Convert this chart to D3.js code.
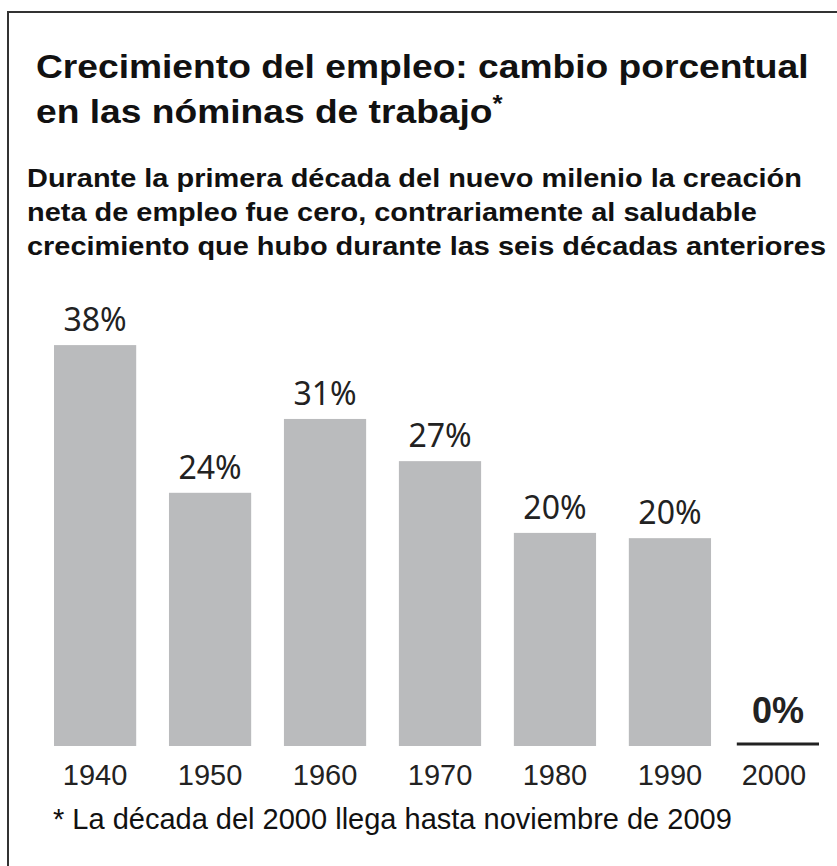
<!DOCTYPE html>
<html>
<head>
<meta charset="utf-8">
<script src="https://cdn.jsdelivr.net/npm/d3@7"></script>
<style>
  html, body { margin: 0; padding: 0; background: #fff; }
  svg { display: block; }
</style>
</head>
<body>
<svg id="chart" width="837" height="866"></svg>
<script>
// data
const decades = ['1940', '1950', '1960', '1970', '1980', '1990', '2000'];
const growth = [38, 24, 31, 27, 20.2, 19.7, 0];
const valueLabels = ['38%', '24%', '31%', '27%', '20%', '20%', '0%'];

const titleLines = [
  'Crecimiento del empleo: cambio porcentual',
  'en las nóminas de trabajo'
];
const subtitleLines = [
  'Durante la primera década del nuevo milenio la creación',
  'neta de empleo fue cero, contrariamente al saludable',
  'crecimiento que hubo durante las seis décadas anteriores'
];
const footnote = '* La década del 2000 llega hasta noviembre de 2009';

const W = 837, H = 866;
const sansFont = '"Liberation Sans", Arial, sans-serif';
const svg = d3.select('#chart');

// frame: top and left rules only
svg.append('line')
  .attr('x1', 8).attr('x2', W).attr('y1', 12).attr('y2', 12)
  .style('stroke', '#333').style('stroke-width', 2);
svg.append('line')
  .attr('x1', 8).attr('x2', 8).attr('y1', 11).attr('y2', H)
  .style('stroke', '#333').style('stroke-width', 2);

// the heading type in the original is a little wider than Arial, so stretch
// the block horizontally until its first line spans the same width
function stretchBlock(g, x0, targetWidth) {
  const first = g.select('text').node();
  const sx = targetWidth / first.getComputedTextLength();
  g.attr('transform', `translate(${x0},0) scale(${sx},1)`);
}

// title
const titleG = svg.append('g');
titleLines.forEach((t, i) => {
  const txt = titleG.append('text')
    .attr('x', 0)
    .attr('y', 78 + i * 45)
    .style('font-family', sansFont)
    .style('font-weight', 'bold')
    .style('font-size', '33px')
    .style('fill', '#111')
    .text(t);
  if (i === titleLines.length - 1) {
    txt.append('tspan').attr('dy', -11).style('font-size', '23px').text('*');
  }
});
stretchBlock(titleG, 36, 773);

// subtitle
const subG = svg.append('g');
subG.selectAll('text')
  .data(subtitleLines)
  .enter().append('text')
  .attr('x', 0)
  .attr('y', (d, i) => 187 + i * 34)
  .style('font-family', sansFont)
  .style('font-weight', 'bold')
  .style('font-size', '26px')
  .style('fill', '#111')
  .text(d => d);
stretchBlock(subG, 27, 775);

// scales
const x = d3.scaleBand()
  .domain(decades)
  .range([54, 826])
  .paddingInner(0.285)
  .paddingOuter(0);

const y = d3.scaleLinear()
  .domain([0, 40])
  .range([746, 324]);

const data = decades.map((d, i) => ({ decade: d, value: growth[i], label: valueLabels[i] }));
const last = decades[decades.length - 1];
const lastShift = -7; // last column sits a bit closer to the 1990 bar

// bars
svg.append('g')
  .selectAll('rect')
  .data(data.filter(d => d.value > 0))
  .enter().append('rect')
  .attr('x', d => x(d.decade))
  .attr('y', d => y(d.value))
  .attr('width', x.bandwidth())
  .attr('height', d => y(0) - y(d.value))
  .style('fill', '#babbbd');

// zero marker for the last decade
svg.append('line')
  .attr('x1', x(last) + lastShift).attr('x2', x(last) + x.bandwidth() + lastShift)
  .attr('y1', y(0) - 2).attr('y2', y(0) - 2)
  .style('stroke', '#222').style('stroke-width', 3);

// value labels
svg.append('g')
  .selectAll('text')
  .data(data)
  .enter().append('text')
  .attr('x', d => x(d.decade) + x.bandwidth() / 2 + (d.decade === last ? lastShift : 0))
  .attr('y', d => d.decade === last ? y(d.value) - 23 : y(d.value) - 14)
  .attr('text-anchor', 'middle')
  .style('font-family', d => d.decade === last ? sansFont : '"Noto Sans", sans-serif')
  .style('font-weight', d => d.decade === last ? 'bold' : 'normal')
  .style('font-size', d => d.decade === last ? '36px' : '32px')
  .style('fill', '#222')
  .text(d => d.label);

// decade labels
const xAxis = svg.append('g')
  .attr('transform', `translate(0, ${y(0)})`)
  .call(d3.axisBottom(x).tickSize(0).tickPadding(18));
xAxis.select('.domain').remove();
xAxis.selectAll('.tick')
  .filter(d => d === last)
  .select('text')
  .attr('x', lastShift - 4);
xAxis.selectAll('text')
  .style('font-family', sansFont)
  .style('font-size', '29px')
  .style('fill', '#222');

// footnote
svg.append('text')
  .attr('x', 53)
  .attr('y', 829)
  .style('font-family', sansFont)
  .style('font-size', '29px')
  .style('fill', '#111')
  .text(footnote);
</script>
</body>
</html>
